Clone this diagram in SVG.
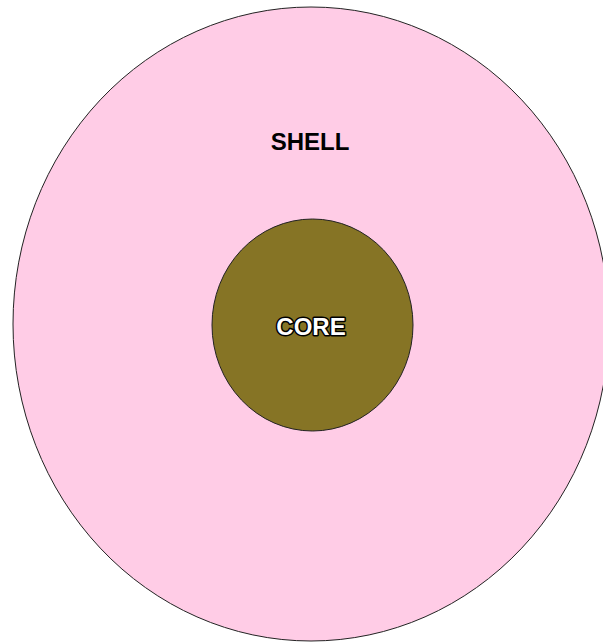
<svg xmlns="http://www.w3.org/2000/svg" width="603" height="643" viewBox="0 0 603 643">
<style>
.lbl{font-family:"Liberation Sans",Arial,Helvetica,sans-serif;font-weight:bold;font-size:24px;text-anchor:middle}
.outline{fill:#fff;stroke:#000;stroke-width:3;paint-order:stroke;stroke-linejoin:round}
</style>
<rect width="603" height="643" fill="#fff"/>
<g id="shell">
<ellipse cx="311" cy="324" rx="298" ry="317" fill="#FFCCE6" stroke="#222" stroke-width="1"/>
<text class="lbl" x="310" y="150" fill="#000">SHELL</text>
</g>
<g id="core">
<ellipse cx="312.5" cy="325" rx="100.5" ry="106" fill="#867425" stroke="#222" stroke-width="1"/>
<text class="lbl outline" x="311" y="335">CORE</text>
</g>
<g id="connectors"></g>
</svg>
